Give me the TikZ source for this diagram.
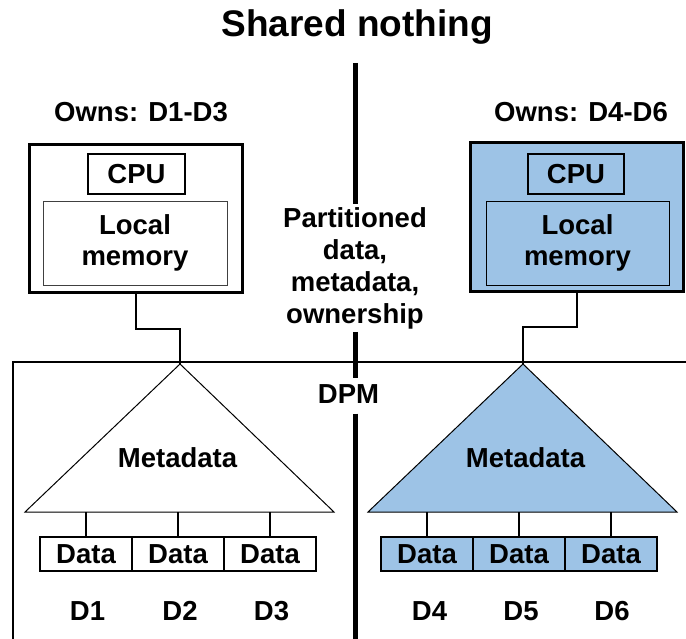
\documentclass[tikz,border=0pt]{standalone}
\usepackage{fontspec}
\setmainfont{Liberation Sans}
\definecolor{partblue}{RGB}{157,195,230}
\begin{document}
\begin{tikzpicture}[x=1pt,y=-1pt,
  txt/.style={font=\fontsize{27.5}{32}\selectfont\bfseries, inner sep=0pt, outer sep=0pt},
  server/.style={draw, line width=3pt, inner sep=0pt, outer sep=0pt},
  cpubox/.style={draw, line width=2.4pt, inner sep=0pt, outer sep=0pt,
    font=\fontsize{27.5}{32}\selectfont\bfseries},
  membox/.style={draw, line width=0.9pt, inner sep=0pt, outer sep=0pt, align=center,
    font=\fontsize{27.5}{31}\selectfont\bfseries},
  databox/.style={draw, line width=1.3pt, minimum width=92pt, minimum height=34pt,
    inner sep=0pt, outer sep=0pt, font=\fontsize{27.5}{32}\selectfont\bfseries},
  wire/.style={line width=2pt},
  leg/.style={line width=1.6pt},
  tri/.style={draw, line width=1pt, line join=miter},
  divider/.style={line width=5pt}
]
\useasboundingbox (0,0) rectangle (686,639);

% title
\node[txt, font=\fontsize{37}{44}\selectfont\bfseries, anchor=base] (title) at (357,37) {Shared nothing};

% ownership captions
\node[txt, anchor=base] (ownsL) at (141,122) {Owns: D1-D3};
\node[txt, anchor=base] (ownsR) at (581,122) {Owns: D4-D6};

% left server
\node[server, minimum width=213pt, minimum height=148pt] (srvL) at (135.5,219) {};
\node[cpubox, minimum width=97pt, minimum height=40pt] (cpuL) at (136.5,174) {CPU};
\node[membox, draw=black!75, minimum width=184pt, minimum height=84pt] (memL) at (135,243) {Local\\memory};

% right server
\node[server, fill=partblue, minimum width=213pt, minimum height=149pt] (srvR) at (576.5,217.5) {};
\node[cpubox, minimum width=96pt, minimum height=40pt] (cpuR) at (576,174) {CPU};
\node[membox, minimum width=183pt, minimum height=84pt] (memR) at (577.5,243) {Local\\memory};

% DPM enclosure
\coordinate (dpmBL) at (13,639);
\coordinate (dpmTL) at (13,362);
\coordinate (dpmTR) at (686,362);
\draw[line width=2pt] (dpmBL) -- (dpmTL) -- (dpmTR);

% metadata trees
\coordinate (apexL) at (180,364);
\coordinate (baseLl) at (25,512);
\coordinate (baseLr) at (334,512);
\coordinate (apexR) at (523,364);
\coordinate (baseRl) at (368,512);
\coordinate (baseRr) at (677,512);
\draw[tri, fill=white] (apexL) -- (baseLr) -- (baseLl) -- cycle;
\draw[tri, fill=partblue] (apexR) -- (baseRr) -- (baseRl) -- cycle;
\node[txt, anchor=base] (metaL) at (177.5,467) {Metadata};
\node[txt, anchor=base] (metaR) at (525.5,467) {Metadata};

% server-to-tree wires
\draw[wire] (srvL.south) -- ++(0,36) -| (apexL);
\draw[wire] (srvR.south) -- ++(0,35) -| (apexR);

% data blocks
\node[databox] (d1) at (86,554) {Data};
\node[databox] (d2) at (178,554) {Data};
\node[databox] (d3) at (270,554) {Data};
\node[databox, fill=partblue] (d4) at (427,554) {Data};
\node[databox, fill=partblue] (d5) at (519,554) {Data};
\node[databox, fill=partblue] (d6) at (611,554) {Data};
\foreach \n in {d1,d2,d3}
  \draw[leg] (\n.north) -- (\n.north |- baseLl);
\foreach \n in {d4,d5,d6}
  \draw[leg] (\n.north) -- (\n.north |- baseRl);

% partition names
\node[txt, anchor=base] (n1) at (87.5,620) {D1};
\node[txt, anchor=base] (n2) at (180,620) {D2};
\node[txt, anchor=base] (n3) at (271.5,620) {D3};
\node[txt, anchor=base] (n4) at (429.5,620) {D4};
\node[txt, anchor=base] (n5) at (521,620) {D5};
\node[txt, anchor=base] (n6) at (612,620) {D6};

% central divider with its captions
\node[txt, align=center, inner ysep=3pt] (shared) at (355,268)
  {Partitioned\\data,\\metadata,\\ownership};
\node[txt, inner ysep=0pt] (dpm) at (348.5,394.5) {DPM};
\coordinate (divTop) at (355,63);
\coordinate (divBot) at (355,639);
\draw[divider] (divTop) -- (shared.north -| divTop);
\draw[divider] (shared.south -| divTop) -- ([yshift=17pt]dpm.center -| divTop);
\draw[divider] ([yshift=-19pt]dpm.center -| divTop) -- (divBot);
\end{tikzpicture}
\end{document}
